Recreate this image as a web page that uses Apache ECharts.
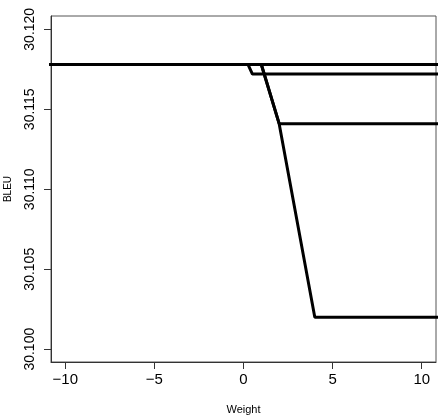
<!DOCTYPE html>
<html>
<head>
<meta charset="utf-8">
<script src="https://cdn.jsdelivr.net/npm/echarts@6/dist/echarts.min.js"></script>
<style>
  html, body { margin: 0; padding: 0; background: #fff; }
  #main { width: 442px; height: 416px; }
</style>
</head>
<body>
<div id="main"></div>
<script>
// weights where the curves bend (ends run past the plot and get clipped)
var weights = [-11, 0.25, 0.5, 1, 2, 4, 11];
var bleuA = [30.1178, 30.1178, 30.1178, 30.1178, 30.1178, 30.1178, 30.1178];
var bleuB = [30.1178, 30.1178, 30.1172, 30.1172, 30.1172, 30.1172, 30.1172];
var bleuC = [30.1178, 30.1178, 30.1178, 30.1178, 30.1141, 30.1141, 30.1141];
var bleuD = [30.1178, 30.1178, 30.1178, 30.1178, 30.1141, 30.1020, 30.1020];
var xTicks = [-10, -5, 0, 5, 10];
var yTicks = [30.100, 30.105, 30.110, 30.115, 30.120];

function pairs(ys) {
  var out = [];
  for (var i = 0; i < weights.length; i++) {
    out.push([weights[i], ys[i]]);
  }
  return out;
}

function mkLine(ys) {
  return {
    type: "line",
    data: pairs(ys),
    symbol: "none",
    clip: true,
    lineStyle: { color: "#000", width: 3 },
    animation: false
  };
}

var chart = echarts.init(document.getElementById("main"));
chart.setOption({
  animation: false,
  grid: {
    left: 51,
    right: 6,
    top: 16,
    bottom: 54,
    outerBoundsMode: "none",
    containLabel: false,
    show: true,
    borderColor: "#555",
    borderWidth: 1
  },
  xAxis: {
    type: "value",
    min: -10.8,
    max: 10.8,
    name: "Weight",
    nameLocation: "middle",
    nameGap: 42,
    nameTextStyle: { fontFamily: "Liberation Sans", fontSize: 11, color: "#000" },
    axisLine: { show: true, onZero: false, lineStyle: { color: "#333", width: 1 } },
    axisTick: {
      show: true,
      length: 7,
      customValues: xTicks,
      lineStyle: { color: "#333" }
    },
    axisLabel: {
      customValues: xTicks,
      margin: 10,
      fontFamily: "Liberation Sans",
      fontSize: 15,
      color: "#000",
      formatter: function (v) {
        return v < 0 ? "\u2212" + Math.abs(v) : String(v);
      }
    },
    splitLine: { show: false }
  },
  yAxis: {
    type: "value",
    min: 30.0992,
    max: 30.12083,
    name: "BLEU",
    nameLocation: "middle",
    nameGap: 38,
    nameTextStyle: { fontFamily: "Liberation Sans", fontSize: 10, color: "#000" },
    axisLine: { show: true, onZero: false, lineStyle: { color: "#333", width: 1 } },
    axisTick: {
      show: true,
      length: 7,
      customValues: yTicks,
      lineStyle: { color: "#333" }
    },
    axisLabel: {
      customValues: yTicks,
      rotate: 90,
      margin: 14,
      fontFamily: "Liberation Sans",
      fontSize: 14,
      color: "#000",
      formatter: function (v) { return v.toFixed(3); }
    },
    splitLine: { show: false }
  },
  series: [mkLine(bleuA), mkLine(bleuB), mkLine(bleuC), mkLine(bleuD)]
});
</script>
</body>
</html>
